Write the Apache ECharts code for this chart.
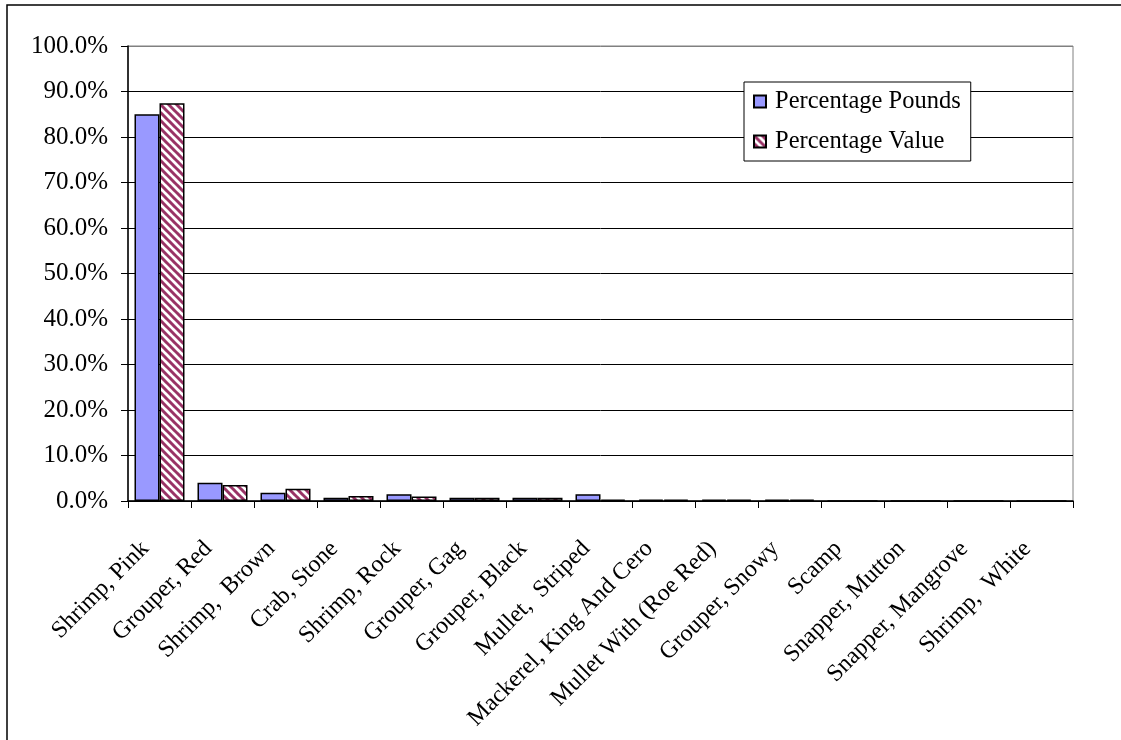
<!DOCTYPE html>
<html>
<head>
<meta charset="utf-8">
<script src="https://cdn.jsdelivr.net/npm/echarts@6/dist/echarts.min.js"></script>
<style>
  html, body { margin: 0; padding: 0; background: #ffffff; }
  #chart { width: 1121px; height: 740px; }
</style>
</head>
<body>
<div id="chart"></div>
<script>
var categories = ['Shrimp, Pink', 'Grouper, Red', 'Shrimp,  Brown', 'Crab, Stone', 'Shrimp, Rock',
  'Grouper, Gag', 'Grouper, Black', 'Mullet,  Striped', 'Mackerel, King And Cero',
  'Mullet With (Roe Red)', 'Grouper, Snowy', 'Scamp', 'Snapper, Mutton', 'Snapper, Mangrove', 'Shrimp,  White']
var percentPounds = [85.0, 4.0, 1.8, 0.7, 1.5, 0.7, 0.7, 1.5, 0.3, 0.3, 0.3, 0, 0, 0, 0]
var percentValue = [87.4, 3.5, 2.7, 1.1, 1.0, 0.7, 0.7, 0.3, 0.3, 0.3, 0.3, 0, 0, 0, 0]

var font = "'Liberation Serif', 'Times New Roman', serif"

// diagonal hatch like the excel fill
function hatch() {
  var s = 8
  var c = document.createElement('canvas')
  c.width = s
  c.height = s
  var ctx = c.getContext('2d')
  ctx.fillStyle = '#ffffff'
  ctx.fillRect(0, 0, s, s)
  ctx.strokeStyle = '#993366'
  ctx.lineWidth = 3
  for (var k = -s; k <= s; k += s) {
    ctx.beginPath()
    ctx.moveTo(k - 1, -1)
    ctx.lineTo(k + s + 1, s + 1)
    ctx.stroke()
  }
  return { image: c, repeat: 'repeat' }
}

// gridlines black, top edge of the plot grey
var gridColors = []
for (var i = 0; i < 10; i++) gridColors.push('#000000')
gridColors.push('#808080')

var myChart = echarts.init(document.getElementById('chart'))
var option = {
  backgroundColor: '#ffffff',
  animation: false,
  textStyle: { fontFamily: font },
  graphic: [{
    type: 'rect',
    shape: { x: 7, y: 5, width: 1300, height: 900 },
    style: { fill: 'none', stroke: '#000000', lineWidth: 1.5 },
    silent: true
  }],
  legend: {
    orient: 'vertical',
    left: 744,
    top: 82,
    padding: [7, 10, 7, 9],
    itemGap: 15,
    itemWidth: 12,
    itemHeight: 12,
    icon: 'rect',
    backgroundColor: '#ffffff',
    borderColor: '#000000',
    borderWidth: 1,
    textStyle: { fontFamily: font, fontSize: 24.5, color: '#000000', padding: [0, 0, 0, 4] },
    data: ['Percentage Pounds', 'Percentage Value']
  },
  grid: {
    left: 128,
    right: 48,
    top: 46,
    bottom: 239,
    outerBoundsMode: 'none',
    containLabel: false,
    show: true,
    borderColor: '#808080',
    borderWidth: 1
  },
  xAxis: {
    type: 'category',
    data: categories,
    axisLine: { lineStyle: { color: '#000000', width: 1.5 } },
    axisTick: { show: true, length: 7, lineStyle: { color: '#000000' } },
    axisLabel: {
      rotate: 45,
      interval: 0,
      margin: 30,
      padding: [0, 20, 0, 0],
      fontFamily: font,
      fontSize: 24,
      color: '#000000'
    }
  },
  yAxis: {
    type: 'value',
    min: 0,
    max: 100,
    interval: 10,
    axisLine: { show: true, lineStyle: { color: '#000000', width: 1.5 } },
    axisTick: { show: true, length: 7, lineStyle: { color: '#000000' } },
    axisLabel: {
      margin: 20,
      fontFamily: font,
      fontSize: 25,
      color: '#000000',
      formatter: function(v) { return v.toFixed(1) + '%' }
    },
    splitLine: { show: true, lineStyle: { color: gridColors, width: 1 } }
  },
  series: [
    {
      name: 'Percentage Pounds',
      type: 'bar',
      barWidth: 25,
      barGap: '0%',
      itemStyle: { color: '#9999ff', borderColor: '#000000', borderWidth: 1.5 },
      data: percentPounds
    },
    {
      name: 'Percentage Value',
      type: 'bar',
      barWidth: 25,
      barGap: '0%',
      itemStyle: { color: hatch(), borderColor: '#000000', borderWidth: 1.5 },
      data: percentValue
    }
  ]
}
myChart.setOption(option)
</script>
</body>
</html>
